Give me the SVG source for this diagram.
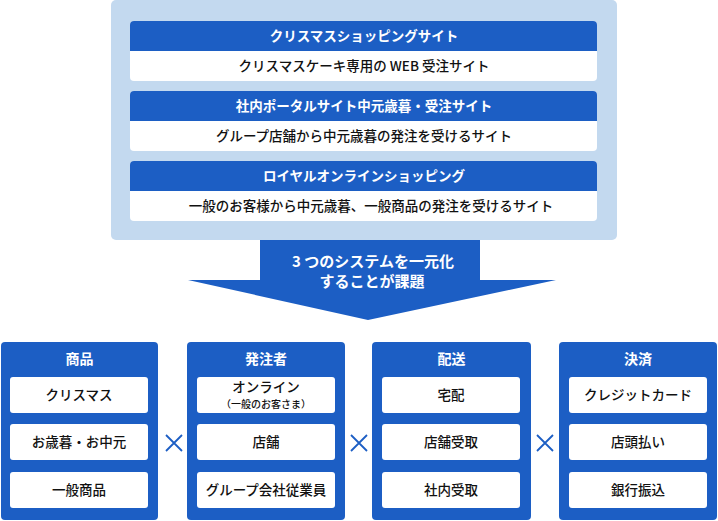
<svg xmlns="http://www.w3.org/2000/svg" width="718" height="521" viewBox="0 0 718 521">
<style>
text{font-family:"Noto Sans CJK JP","Noto Sans",sans-serif;text-anchor:middle;}
.panel{fill:#c3d9ef;}
.blue{fill:#1c5ec4;}
.white{fill:#ffffff;}
.ht{fill:#ffffff;font-size:13.5px;font-weight:bold;}
.bt{fill:#111111;font-size:13.5px;font-weight:500;}
.ch{fill:#ffffff;font-size:14px;font-weight:bold;}
.it{fill:#111111;font-size:13.5px;font-weight:500;}
.sm{fill:#111111;font-size:10px;font-weight:500;}
.at{fill:#ffffff;font-size:15px;font-weight:bold;}
.x{stroke:#1c5ec4;stroke-width:1.8;fill:none;}
</style>
<g id="systems">
<rect class="panel" x="111" y="0" width="506" height="240" rx="5"/>
<g id="site1">
<rect class="white" x="130" y="21" width="467" height="60" rx="4"/>
<path class="blue" d="M130 51V25a4 4 0 0 1 4-4h459a4 4 0 0 1 4 4v26z"/>
<text class="ht" x="364" y="41">クリスマスショッピングサイト</text>
<text class="bt" x="364" y="71">クリスマスケーキ専用の WEB 受注サイト</text>
</g>
<g id="site2">
<rect class="white" x="130" y="91" width="467" height="60" rx="4"/>
<path class="blue" d="M130 121V95a4 4 0 0 1 4-4h459a4 4 0 0 1 4 4v26z"/>
<text class="ht" x="364" y="111">社内ポータルサイト中元歳暮・受注サイト</text>
<text class="bt" x="364" y="141">グループ店舗から中元歳暮の発注を受けるサイト</text>
</g>
<g id="site3">
<rect class="white" x="130" y="161" width="467" height="60" rx="4"/>
<path class="blue" d="M130 191V165a4 4 0 0 1 4-4h459a4 4 0 0 1 4 4v26z"/>
<text class="ht" x="364" y="181">ロイヤルオンラインショッピング</text>
<text class="bt" x="371" y="211">一般のお客様から中元歳暮、一般商品の発注を受けるサイト</text>
</g>
</g>
<g id="connectors">
<path id="arrow" class="blue" d="M260 240H480V280H556L368 320L188 280H260Z"/>
<text class="at" x="373" y="267">3 つのシステムを一元化</text>
<text class="at" x="372" y="287">することが課題</text>
<path class="x" d="M166 435L182 451M182 435L166 451"/>
<path class="x" d="M351 435L367 451M367 435L351 451"/>
<path class="x" d="M537 435L553 451M553 435L537 451"/>
</g>
<g id="col-product">
<rect class="blue" x="1" y="342" width="157" height="178" rx="4"/>
<text class="ch" x="79.5" y="364">商品</text>
<rect class="white" x="10" y="377" width="138" height="36" rx="3"/>
<text class="it" x="79" y="400">クリスマス</text>
<rect class="white" x="10" y="424" width="138" height="36" rx="3"/>
<text class="it" x="79" y="447">お歳暮・お中元</text>
<rect class="white" x="10" y="472" width="138" height="36" rx="3"/>
<text class="it" x="79" y="495">一般商品</text>
</g>
<g id="col-orderer">
<rect class="blue" x="187" y="342" width="158" height="178" rx="4"/>
<text class="ch" x="266" y="364">発注者</text>
<rect class="white" x="197" y="377" width="138" height="36" rx="3"/>
<text class="it" x="266" y="392">オンライン</text>
<text class="sm" x="266" y="408">（一般のお客さま）</text>
<rect class="white" x="197" y="424" width="138" height="36" rx="3"/>
<text class="it" x="266" y="447">店舗</text>
<rect class="white" x="197" y="472" width="138" height="36" rx="3"/>
<text class="it" x="266" y="495">グループ会社従業員</text>
</g>
<g id="col-delivery">
<rect class="blue" x="372" y="342" width="159" height="178" rx="4"/>
<text class="ch" x="451.5" y="364">配送</text>
<rect class="white" x="382" y="377" width="138" height="36" rx="3"/>
<text class="it" x="451" y="400">宅配</text>
<rect class="white" x="382" y="424" width="138" height="36" rx="3"/>
<text class="it" x="451" y="447">店舗受取</text>
<rect class="white" x="382" y="472" width="138" height="36" rx="3"/>
<text class="it" x="451" y="495">社内受取</text>
</g>
<g id="col-payment">
<rect class="blue" x="559" y="342" width="158" height="178" rx="4"/>
<text class="ch" x="638" y="364">決済</text>
<rect class="white" x="569" y="377" width="138" height="36" rx="3"/>
<text class="it" x="638" y="400">クレジットカード</text>
<rect class="white" x="569" y="424" width="138" height="36" rx="3"/>
<text class="it" x="638" y="447">店頭払い</text>
<rect class="white" x="569" y="472" width="138" height="36" rx="3"/>
<text class="it" x="638" y="495">銀行振込</text>
</g>
</svg>
